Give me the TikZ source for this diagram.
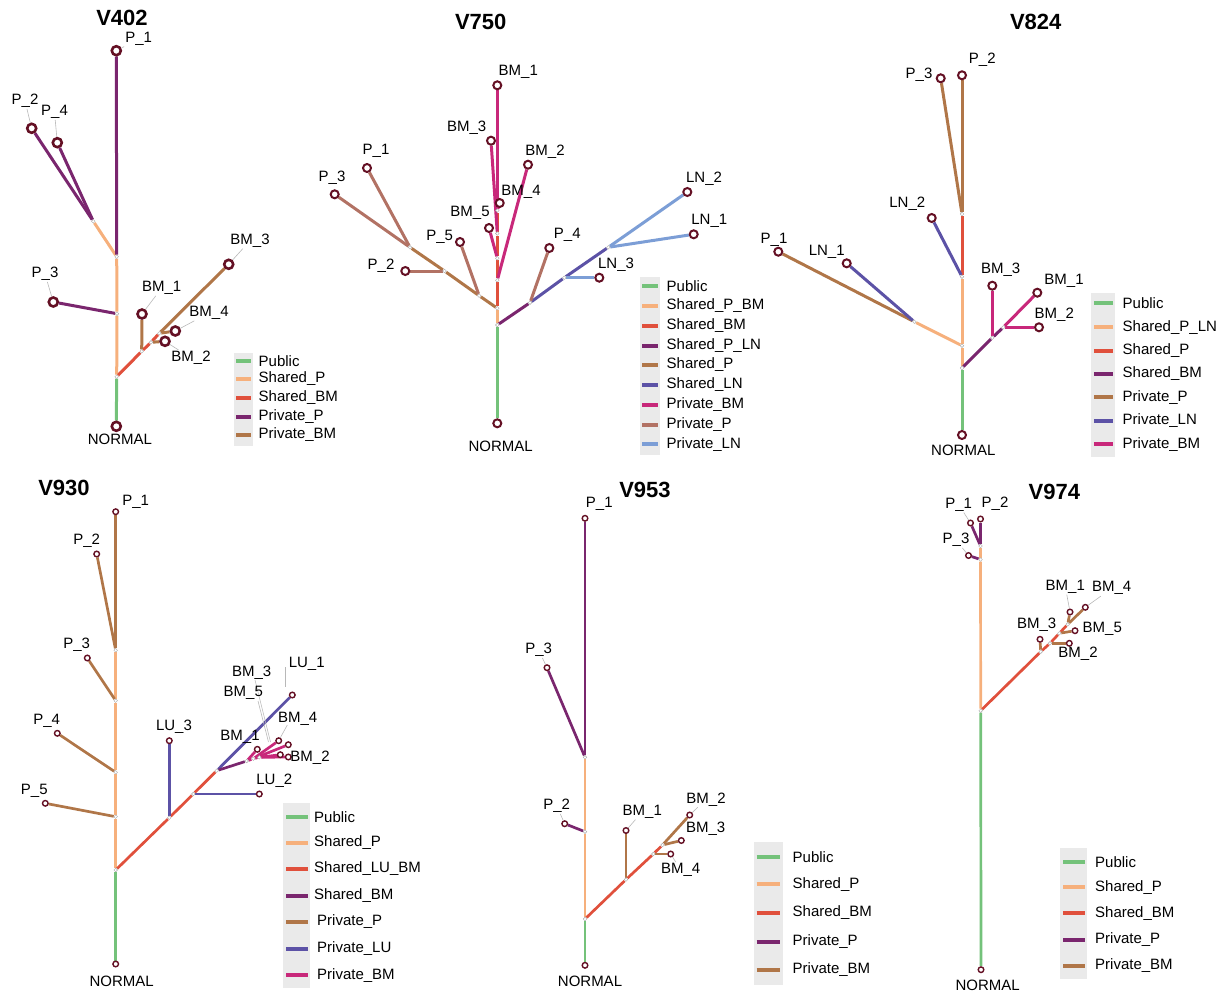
\documentclass[tikz,border=0pt]{standalone}
\usepackage{fontspec}
\setmainfont{Liberation Sans}
\usetikzlibrary{backgrounds}
\definecolor{cPub}{RGB}{116,194,122}
\definecolor{cShP}{RGB}{246,176,124}
\definecolor{cRed}{RGB}{224,80,60}
\definecolor{cPur}{RGB}{122,38,110}
\definecolor{cBrn}{RGB}{176,118,72}
\definecolor{cInd}{RGB}{92,82,166}
\definecolor{cMag}{RGB}{200,40,122}
\definecolor{cRos}{RGB}{178,114,100}
\definecolor{cLbl}{RGB}{124,158,214}
\definecolor{cNode}{RGB}{100,16,36}
\definecolor{cLeg}{RGB}{234,234,234}
\begin{document}
\begin{tikzpicture}[x=1pt,y=-1pt,
 leafA/.style={circle,draw=cNode,fill=white,line width=2.6pt,minimum size=9pt,inner sep=0pt},
 leafB/.style={circle,draw=cNode,fill=white,line width=2pt,minimum size=8pt,inner sep=0pt},
 leafC/.style={circle,draw=cNode,fill=white,line width=1.4pt,minimum size=5.6pt,inner sep=0pt},
 inner/.style={circle,draw=black!35,fill=white,line width=0.4pt,minimum size=3.6pt,inner sep=0pt},
 lab/.style={font=\fontsize{15}{18}\selectfont,inner sep=1pt},
 ttl/.style={font=\fontsize{22}{26}\selectfont\bfseries,inner sep=0pt},
 ed/.style={line width=3pt},
 eds/.style={line width=2.7pt},
 leader/.style={draw=black!28,line width=0.6pt},
 legkey/.style={line width=4pt},
 legtxt/.style={font=\fontsize{15}{18}\selectfont,anchor=west,inner sep=0pt},
 legbg/.style={fill=cLeg,draw=none}]
\useasboundingbox (0,0) rectangle (1225,998);

%================ V402 =================
\node[ttl] (a-t) at (122,18) {V402};
\node[inner] (a-R) at (116.7,376.7) {};
\node[inner] (a-C) at (117,313.7) {};
\node[inner] (a-A) at (116.7,256.7) {};
\node[inner] (a-B) at (93.3,221.3) {};
\node[inner] (a-D) at (141.7,351.3) {};
\node[inner] (a-E) at (151,342.3) {};
\node[inner] (a-F) at (159.3,333.3) {};
\node[leafA] (a-P1) at (116.3,50.7) {};
\node[leafA] (a-P2) at (31.7,128.3) {};
\node[leafA] (a-P4) at (57.3,142.7) {};
\node[leafA] (a-P3) at (53.3,302) {};
\node[leafA] (a-N) at (116.3,426.3) {};
\node[leafA] (a-BM1) at (142,314) {};
\node[leafA] (a-BM2) at (165,341.3) {};
\node[leafA] (a-BM4) at (175.3,331) {};
\node[leafA] (a-BM3) at (228.7,264.3) {};
\node[lab] (a-P1l) at (138.7,39) {P\_1};
\node[lab] (a-P2l) at (25,101) {P\_2};
\node[lab] (a-P4l) at (54.5,112) {P\_4};
\node[lab] (a-P3l) at (45,274) {P\_3};
\node[lab] (a-BM1l) at (161.7,288) {BM\_1};
\node[lab] (a-BM2l) at (191,358) {BM\_2};
\node[lab] (a-BM4l) at (209,313) {BM\_4};
\node[lab] (a-BM3l) at (250,240.7) {BM\_3};
\node[lab] (a-Nl) at (120,439) {NORMAL};
\begin{pgfonlayer}{background}
\draw[ed,cPub] (a-R) -- (a-N);
\draw[ed,cShP] (a-R) -- (a-C);
\draw[ed,cShP] (a-C) -- (a-A);
\draw[ed,cShP] (a-A) -- (a-B);
\draw[ed,cPur] (a-A) -- (a-P1);
\draw[ed,cPur] (a-B) -- (a-P2);
\draw[ed,cPur] (a-B) -- (a-P4);
\draw[ed,cPur] (a-C) -- (a-P3);
\draw[ed,cRed] (a-R) -- (a-D);
\draw[ed,cRed] (a-D) -- (a-E);
\draw[ed,cRed] (a-E) -- (a-F);
\draw[ed,cBrn] (a-D) -- (a-BM1);
\draw[ed,cBrn] (a-E) -- (a-BM2);
\draw[ed,cBrn] (a-F) -- (a-BM4);
\draw[ed,cBrn] (a-F) -- (a-BM3);
\draw[leader] (a-P1) -- (a-P1l);
\draw[leader] (a-P2) -- (a-P2l);
\draw[leader] (a-P4) -- (a-P4l);
\draw[leader] (a-P3) -- (a-P3l);
\draw[leader] (a-BM1) -- (a-BM1l);
\draw[leader] (a-BM2) -- (a-BM2l);
\draw[leader] (a-BM4) -- (a-BM4l);
\draw[leader] (a-BM3) -- (a-BM3l);
\end{pgfonlayer}
\fill[legbg] (234.3,353.3) rectangle (252.7,445.7);
\foreach \ly/\lc/\lt [count=\i] in {360.7/cPub/Public,379/cShP/Shared\_P,397.7/cRed/Shared\_BM,416.7/cPur/Private\_P,435/cBrn/Private\_BM}{
  \draw[legkey,\lc] (236,\ly) -- (250.7,\ly);
  \node[legtxt] (a-l\i) at (258.5,\ly) {\lt};}

%================ V750 =================
\node[ttl] (b-t) at (480.7,21.7) {V750};
\node[inner] (b-R) at (497.3,325) {};
\node[inner] (b-N1) at (497.3,308.3) {};
\node[inner] (b-M1) at (497.3,280.3) {};
\node[inner] (b-M2) at (497.3,258.3) {};
\node[inner] (b-M3) at (497.3,233.5) {};
\node[inner] (b-M4) at (497.3,210.5) {};
\node[inner] (b-Q1) at (479.2,295.7) {};
\node[inner] (b-Q2) at (444.5,271) {};
\node[inner] (b-Q3) at (410,247.3) {};
\node[inner] (b-L1) at (530,302.7) {};
\node[inner] (b-L2) at (564.3,277.7) {};
\node[inner] (b-L3) at (608.3,247.3) {};
\node[leafB] (b-BM1) at (497.3,85.3) {};
\node[leafB] (b-BM3) at (491,140.7) {};
\node[leafB] (b-BM2) at (528,164.7) {};
\node[leafB] (b-P1) at (367,168) {};
\node[leafB] (b-P3) at (334.7,194.3) {};
\node[leafB] (b-BM4) at (499.7,203) {};
\node[leafB] (b-BM5) at (489,228) {};
\node[leafB] (b-P5) at (460,242) {};
\node[leafB] (b-P4) at (549.3,248) {};
\node[leafB] (b-LN2) at (687.3,192) {};
\node[leafB] (b-LN1) at (693.7,234.3) {};
\node[leafB] (b-LN3) at (599.3,277.7) {};
\node[leafB] (b-P2) at (405.3,271) {};
\node[leafB] (b-N) at (497.3,423.3) {};
\node[lab] (b-BM1l) at (518.3,71.7) {BM\_1};
\node[lab] (b-BM3l) at (466.7,127.3) {BM\_3};
\node[lab] (b-BM2l) at (545,151.7) {BM\_2};
\node[lab] (b-P1l) at (376,151) {P\_1};
\node[lab] (b-P3l) at (332,178) {P\_3};
\node[lab] (b-BM4l) at (521,192.3) {BM\_4};
\node[lab] (b-BM5l) at (470,213.3) {BM\_5};
\node[lab] (b-P5l) at (439.7,237) {P\_5};
\node[lab] (b-P4l) at (567.3,235) {P\_4};
\node[lab] (b-LN2l) at (704,179) {LN\_2};
\node[lab] (b-LN1l) at (709.3,220.7) {LN\_1};
\node[lab] (b-LN3l) at (616,265) {LN\_3};
\node[lab] (b-P2l) at (381,265.7) {P\_2};
\node[lab] (b-Nl) at (500.7,446.7) {NORMAL};
\begin{pgfonlayer}{background}
\draw[ed,cPub] (b-R) -- (b-N);
\draw[ed,cShP] (b-R) -- (b-N1);
\draw[ed,cRed] (b-N1) -- (b-M1);
\draw[ed,cRed] (b-M1) -- (b-M2);
\draw[ed,cRed] (b-M2) -- (b-M3);
\draw[ed,cRed] (b-M3) -- (b-M4);
\draw[ed,cMag] (b-M4) -- (b-BM1);
\draw[ed,cMag] (b-M4) -- (b-BM4);
\draw[ed,cMag] (b-M3) -- (b-BM3);
\draw[ed,cMag] (b-M2) -- (b-BM5);
\draw[ed,cMag] (b-M1) -- (b-BM2);
\draw[ed,cBrn] (b-N1) -- (b-Q1);
\draw[ed,cBrn] (b-Q1) -- (b-Q2);
\draw[ed,cBrn] (b-Q2) -- (b-Q3);
\draw[ed,cRos] (b-Q1) -- (b-P5);
\draw[ed,cRos] (b-Q2) -- (b-P2);
\draw[ed,cRos] (b-Q3) -- (b-P1);
\draw[ed,cRos] (b-Q3) -- (b-P3);
\draw[ed,cPur] (b-R) -- (b-L1);
\draw[ed,cInd] (b-L1) -- (b-L2);
\draw[ed,cInd] (b-L2) -- (b-L3);
\draw[ed,cRos] (b-L1) -- (b-P4);
\draw[ed,cLbl] (b-L2) -- (b-LN3);
\draw[ed,cLbl] (b-L3) -- (b-LN2);
\draw[ed,cLbl] (b-L3) -- (b-LN1);
\end{pgfonlayer}
\fill[legbg] (640,276.7) rectangle (660,455);
\foreach \ly/\lc/\lt [count=\i] in {285.7/cPub/Public,305.7/cShP/Shared\_P\_BM,325.7/cRed/Shared\_BM,345.7/cPur/Shared\_P\_LN,365/cBrn/Shared\_P,385/cInd/Shared\_LN,405/cMag/Private\_BM,425/cRos/Private\_P,444.3/cLbl/Private\_LN}{
  \draw[legkey,\lc] (642.3,\ly) -- (658.3,\ly);
  \node[legtxt] (b-l\i) at (666.5,\ly) {\lt};}

%================ V824 =================
\node[ttl] (c-t) at (1035.7,21.7) {V824};
\node[inner] (c-T) at (962,214) {};
\node[inner] (c-M2) at (962,276.7) {};
\node[inner] (c-M3) at (914.3,321.7) {};
\node[inner] (c-M4) at (962,345.7) {};
\node[inner] (c-R) at (962,368) {};
\node[inner] (c-B1) at (992.3,337.7) {};
\node[inner] (c-B2) at (1003.3,327.3) {};
\node[leafB] (c-P2) at (962,75.3) {};
\node[leafB] (c-P3) at (940.7,78.3) {};
\node[leafB] (c-LN2) at (931.7,218) {};
\node[leafB] (c-P1) at (778.3,251.7) {};
\node[leafB] (c-LN1) at (846.7,263.3) {};
\node[leafB] (c-N) at (962,435) {};
\node[leafB] (c-BM3) at (992.3,285.7) {};
\node[leafB] (c-BM1) at (1037.3,292.7) {};
\node[leafB] (c-BM2) at (1039,327.3) {};
\node[lab] (c-P2l) at (982.3,60) {P\_2};
\node[lab] (c-P3l) at (919,75) {P\_3};
\node[lab] (c-LN2l) at (907.3,203.7) {LN\_2};
\node[lab] (c-P1l) at (774,240.3) {P\_1};
\node[lab] (c-LN1l) at (826.7,252.3) {LN\_1};
\node[lab] (c-BM3l) at (1000.7,269.3) {BM\_3};
\node[lab] (c-BM1l) at (1064,280.7) {BM\_1};
\node[lab] (c-BM2l) at (1054.3,314.3) {BM\_2};
\node[lab] (c-Nl) at (963.3,450.7) {NORMAL};
\begin{pgfonlayer}{background}
\draw[ed,cPub] (c-R) -- (c-N);
\draw[ed,cShP] (c-R) -- (c-M4);
\draw[ed,cShP] (c-M4) -- (c-M3);
\draw[ed,cShP] (c-M4) -- (c-M2);
\draw[ed,cRed] (c-M2) -- (c-T);
\draw[ed,cBrn] (c-T) -- (c-P2);
\draw[ed,cBrn] (c-T) -- (c-P3);
\draw[ed,cBrn] (c-M3) -- (c-P1);
\draw[ed,cInd] (c-M2) -- (c-LN2);
\draw[ed,cInd] (c-M3) -- (c-LN1);
\draw[ed,cPur] (c-R) -- (c-B1);
\draw[ed,cPur] (c-B1) -- (c-B2);
\draw[ed,cMag] (c-B1) -- (c-BM3);
\draw[ed,cMag] (c-B2) -- (c-BM1);
\draw[ed,cMag] (c-B2) -- (c-BM2);
\end{pgfonlayer}
\fill[legbg] (1090.7,292.7) rectangle (1115,456.7);
\foreach \ly/\lc/\lt [count=\i] in {303.3/cPub/Public,327.3/cShP/Shared\_P\_LN,351/cRed/Shared\_P,374/cPur/Shared\_BM,397.3/cBrn/Private\_P,421/cInd/Private\_LN,444.3/cMag/Private\_BM}{
  \draw[legkey,\lc] (1094,\ly) -- (1112.7,\ly);
  \node[legtxt] (c-l\i) at (1122.5,\ly) {\lt};}

%================ V930 =================
\node[ttl] (d-t) at (64,488.3) {V930};
\node[inner] (d-T1) at (115.7,650.3) {};
\node[inner] (d-T2) at (115.7,700.7) {};
\node[inner] (d-T3) at (115.7,772.3) {};
\node[inner] (d-T4) at (115.7,816.7) {};
\node[inner] (d-R) at (115.7,870) {};
\node[inner] (d-U1) at (169.3,817.7) {};
\node[inner] (d-U2) at (193.3,794) {};
\node[inner] (d-U3) at (216.7,770.7) {};
\node[inner] (d-V1) at (246.7,761) {};
\node[inner] (d-V2) at (253.3,758.7) {};
\node[inner] (d-V3) at (259.3,757.3) {};
\node[leafC] (d-P1) at (115.7,511.7) {};
\node[leafC] (d-P2) at (96.7,554) {};
\node[leafC] (d-P3) at (87.3,658) {};
\node[leafC] (d-P4) at (57.3,733.3) {};
\node[leafC] (d-P5) at (45.3,803.3) {};
\node[leafC] (d-N) at (115.7,964) {};
\node[leafC] (d-LU3) at (169.3,740.7) {};
\node[leafC] (d-LU2) at (259.3,794) {};
\node[leafC] (d-LU1) at (292.3,695) {};
\node[leafC] (d-BM1) at (257.3,749.3) {};
\node[leafC] (d-BM4) at (278.7,740.7) {};
\node[leafC] (d-BM3) at (288.3,744.7) {};
\node[leafC] (d-BM5) at (280.3,754.7) {};
\node[leafC] (d-BM2) at (288.3,757) {};
\node[lab] (d-P1l) at (135.7,501.7) {P\_1};
\node[lab] (d-P2l) at (86.7,541) {P\_2};
\node[lab] (d-P3l) at (76.7,644.7) {P\_3};
\node[lab] (d-P4l) at (46.7,720.7) {P\_4};
\node[lab] (d-P5l) at (34.3,791) {P\_5};
\node[lab] (d-LU3l) at (174,726.7) {LU\_3};
\node[lab] (d-LU2l) at (274.3,781) {LU\_2};
\node[lab] (d-LU1l) at (306.7,664.3) {LU\_1};
\node[lab] (d-BM3l) at (251.7,672.7) {BM\_3};
\node[lab] (d-BM5l) at (243.3,693.3) {BM\_5};
\node[lab] (d-BM4l) at (297.7,719) {BM\_4};
\node[lab] (d-BM1l) at (240,737.3) {BM\_1};
\node[lab] (d-BM2l) at (310,757.3) {BM\_2};
\node[lab] (d-Nl) at (121.7,981.7) {NORMAL};
\coordinate (d-k1) at (285,686.7);
\coordinate (d-k2) at (285,667.3);
\coordinate (d-k3) at (255,680);
\coordinate (d-k4) at (270.5,742);
\coordinate (d-k5) at (258,701);
\coordinate (d-k6) at (268.5,742);
\coordinate (d-k7) at (287.3,725);
\begin{pgfonlayer}{background}
\draw[eds,cPub] (d-R) -- (d-N);
\draw[eds,cShP] (d-R) -- (d-T4);
\draw[eds,cShP] (d-T4) -- (d-T3);
\draw[eds,cShP] (d-T3) -- (d-T2);
\draw[eds,cShP] (d-T2) -- (d-T1);
\draw[eds,cBrn] (d-T1) -- (d-P1);
\draw[eds,cBrn] (d-T1) -- (d-P2);
\draw[eds,cBrn] (d-T2) -- (d-P3);
\draw[eds,cBrn] (d-T3) -- (d-P4);
\draw[eds,cBrn] (d-T4) -- (d-P5);
\draw[eds,cRed] (d-R) -- (d-U1);
\draw[eds,cRed] (d-U1) -- (d-U2);
\draw[eds,cRed] (d-U2) -- (d-U3);
\draw[eds,cInd] (d-U1) -- (d-LU3);
\draw[eds,cInd] (d-U2) -- (d-LU2);
\draw[eds,cInd] (d-U3) -- (d-LU1);
\draw[eds,cPur] (d-U3) -- (d-V1);
\draw[eds,cMag] (d-V1) -- (d-V2);
\draw[eds,cMag] (d-V2) -- (d-V3);
\draw[eds,cMag] (d-V1) -- (d-BM1);
\draw[eds,cMag] (d-V2) -- (d-BM4);
\draw[eds,cMag] (d-V2) -- (d-BM3);
\draw[eds,cMag] (d-V3) -- (d-BM5);
\draw[eds,cMag] (d-V3) -- (d-BM2);
\draw[leader] (d-k1) -- (d-k2);
\draw[leader] (d-k3) -- (d-k4);
\draw[leader] (d-k5) -- (d-k6);
\draw[leader] (d-k7) -- (d-BM4);
\end{pgfonlayer}
\fill[legbg] (283.3,803.3) rectangle (310,988.3);
\foreach \ly/\lc/\lt/\lx [count=\i] in {816.7/cPub/Public/314,842.7/cShP/Shared\_P/314,869/cRed/Shared\_LU\_BM/314,896/cPur/Shared\_BM/314,922/cBrn/Private\_P/317,948.7/cInd/Private\_LU/317,975.3/cMag/Private\_BM/317}{
  \draw[legkey,\lc] (286,\ly) -- (307.7,\ly);
  \node[legtxt] (d-l\i) at (\lx,\ly) {\lt};}

%================ V953 =================
\node[ttl] (e-t) at (645,490) {V953};
\node[inner] (e-S1) at (585,757.3) {};
\node[inner] (e-S2) at (585,831.7) {};
\node[inner] (e-R) at (585,919) {};
\node[inner] (e-B1) at (626,879.5) {};
\node[inner] (e-B2) at (653.3,854) {};
\node[inner] (e-B3) at (662.5,845) {};
\node[leafC] (e-P1) at (585,518.3) {};
\node[leafC] (e-P3) at (547,667.7) {};
\node[leafC] (e-P2) at (564.7,823.7) {};
\node[leafC] (e-N) at (585,965.3) {};
\node[leafC] (e-BM1) at (626,830.5) {};
\node[leafC] (e-BM4) at (670.7,854) {};
\node[leafC] (e-BM3) at (681.3,840.5) {};
\node[leafC] (e-BM2) at (689.7,815) {};
\node[lab] (e-P1l) at (599.3,504) {P\_1};
\node[lab] (e-P3l) at (538.7,650) {P\_3};
\node[lab] (e-P2l) at (556.7,806) {P\_2};
\node[lab] (e-BM1l) at (642.3,811.7) {BM\_1};
\node[lab] (e-BM4l) at (680.7,870) {BM\_4};
\node[lab] (e-BM3l) at (705.7,829) {BM\_3};
\node[lab] (e-BM2l) at (706,799.3) {BM\_2};
\node[lab] (e-Nl) at (590,981.7) {NORMAL};
\begin{pgfonlayer}{background}
\draw[eds,cPub] (e-R) -- (e-N);
\draw[eds,cShP] (e-R) -- (e-S2);
\draw[eds,cShP] (e-S2) -- (e-S1);
\draw[eds,cPur] (e-S1) -- (e-P1);
\draw[eds,cPur] (e-S1) -- (e-P3);
\draw[eds,cPur] (e-S2) -- (e-P2);
\draw[eds,cRed] (e-R) -- (e-B1);
\draw[eds,cRed] (e-B1) -- (e-B2);
\draw[eds,cRed] (e-B2) -- (e-B3);
\draw[eds,cBrn] (e-B1) -- (e-BM1);
\draw[eds,cBrn] (e-B2) -- (e-BM4);
\draw[eds,cBrn] (e-B3) -- (e-BM3);
\draw[eds,cBrn] (e-B3) -- (e-BM2);
\draw[leader] (e-P3) -- (e-P3l);
\draw[leader] (e-P2) -- (e-P2l);
\draw[leader] (e-BM1) -- (e-BM1l);
\draw[leader] (e-BM4) -- (e-BM4l);
\draw[leader] (e-BM2) -- (e-BM2l);
\end{pgfonlayer}
\fill[legbg] (754,842.3) rectangle (782.7,985);
\foreach \ly/\lc/\lt [count=\i] in {856.7/cPub/Public,884.3/cShP/Shared\_P,912.7/cRed/Shared\_BM,941.7/cPur/Private\_P,970/cBrn/Private\_BM}{
  \draw[legkey,\lc] (756.7,\ly) -- (780,\ly);
  \node[legtxt] (e-l\i) at (792.5,\ly) {\lt};}

%================ V974 =================
\node[ttl] (f-t) at (1054.3,491.7) {V974};
\node[inner] (f-W1) at (980.5,546) {};
\node[inner] (f-W2) at (980.5,559.5) {};
\node[inner] (f-R) at (980.7,710.7) {};
\node[inner] (f-X1) at (1040.7,651.7) {};
\node[inner] (f-X2) at (1050,643.3) {};
\node[inner] (f-X3) at (1059.3,633.3) {};
\node[inner] (f-X4) at (1067.7,624.3) {};
\node[leafC] (f-P2) at (980.5,519) {};
\node[leafC] (f-P1) at (970.5,523) {};
\node[leafC] (f-P3) at (968.5,555.5) {};
\node[leafC] (f-N) at (981,969.7) {};
\node[leafC] (f-BM3) at (1040,639.3) {};
\node[leafC] (f-BM2) at (1069.3,643.3) {};
\node[leafC] (f-BM5) at (1075,630.7) {};
\node[leafC] (f-BM1) at (1070,612) {};
\node[leafC] (f-BM4) at (1085.3,607.3) {};
\node[lab] (f-P2l) at (995,504) {P\_2};
\node[lab] (f-P1l) at (958.7,504.7) {P\_1};
\node[lab] (f-P3l) at (956,540) {P\_3};
\node[lab] (f-BM3l) at (1036.7,625) {BM\_3};
\node[lab] (f-BM2l) at (1078,653.3) {BM\_2};
\node[lab] (f-BM5l) at (1102.3,629.3) {BM\_5};
\node[lab] (f-BM1l) at (1065.3,586.7) {BM\_1};
\node[lab] (f-BM4l) at (1111.7,588.3) {BM\_4};
\node[lab] (f-Nl) at (987.7,985) {NORMAL};
\begin{pgfonlayer}{background}
\draw[eds,cPub] (f-R) -- (f-N);
\draw[eds,cShP] (f-R) -- (f-W2);
\draw[eds,cShP] (f-W2) -- (f-W1);
\draw[eds,cPur] (f-W1) -- (f-P1);
\draw[eds,cPur] (f-W1) -- (f-P2);
\draw[eds,cPur] (f-W2) -- (f-P3);
\draw[eds,cRed] (f-R) -- (f-X1);
\draw[eds,cRed] (f-X1) -- (f-X2);
\draw[eds,cRed] (f-X2) -- (f-X3);
\draw[eds,cRed] (f-X3) -- (f-X4);
\draw[eds,cBrn] (f-X1) -- (f-BM3);
\draw[eds,cBrn] (f-X2) -- (f-BM2);
\draw[eds,cBrn] (f-X3) -- (f-BM5);
\draw[eds,cBrn] (f-X4) -- (f-BM1);
\draw[eds,cBrn] (f-X4) -- (f-BM4);
\draw[leader] (f-P1) -- (f-P1l);
\draw[leader] (f-P3) -- (f-P3l);
\draw[leader] (f-BM1) -- (f-BM1l);
\draw[leader] (f-BM4) -- (f-BM4l);
\end{pgfonlayer}
\fill[legbg] (1060,848.3) rectangle (1086.7,979.3);
\foreach \ly/\lc/\lt [count=\i] in {862.3/cPub/Public,887.3/cShP/Shared\_P,913.3/cRed/Shared\_BM,940/cPur/Private\_P,965.7/cBrn/Private\_BM}{
  \draw[legkey,\lc] (1063.3,\ly) -- (1085,\ly);
  \node[legtxt] (f-l\i) at (1095,\ly) {\lt};}
\end{tikzpicture}
\end{document}
